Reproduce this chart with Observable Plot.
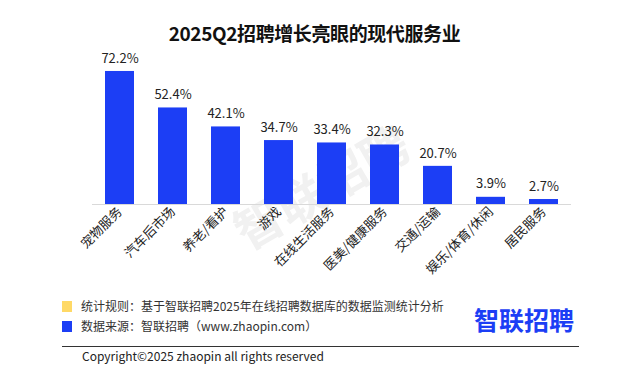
<!DOCTYPE html>
<html><head><meta charset="utf-8">
<script src="https://cdn.jsdelivr.net/npm/d3@7"></script>
<script src="https://cdn.jsdelivr.net/npm/@observablehq/plot@0.6"></script>
<style>
body{margin:0;background:#fff;font-family:"Noto Sans CJK SC","Noto Sans",sans-serif;}
#wrap{position:relative;width:629px;height:376px;overflow:hidden;background:#fff;}
#title{position:absolute;left:0;width:629px;top:19px;text-align:center;font-size:19px;font-weight:bold;color:#111;letter-spacing:-0.4px;}
#chart{position:absolute;left:0;top:0;}
#wm{position:absolute;left:220px;top:160px;width:200px;height:50px;line-height:50px;text-align:center;font-size:48px;font-weight:bold;color:#f1f1f1;transform:rotate(-30deg);transform-origin:center;white-space:nowrap;}
.note{position:absolute;left:81px;font-size:12px;color:#333;}
.sq{position:absolute;left:62px;width:10px;height:11px;}
#logo{position:absolute;left:474px;top:301px;font-size:25px;font-weight:bold;color:#1c3ef5;letter-spacing:0px;}
#line{position:absolute;left:62px;width:517px;top:346px;height:1px;background:#333;}
#copy{position:absolute;left:82px;top:347px;font-size:12px;color:#222;}
</style></head>
<body><div id="wrap">
<div id="wm">智联招聘</div>
<div id="chart"></div>
<div id="title">2025Q2招聘增长亮眼的现代服务业</div>
<div class="sq" style="top:301px;background:#ffd966"></div>
<div class="note" style="top:297px">统计规则：基于智联招聘2025年在线招聘数据库的数据监测统计分析</div>
<div class="sq" style="top:321px;background:#1c3ef5"></div>
<div class="note" style="top:317px">数据来源：智联招聘（www.zhaopin.com）</div>
<div id="logo">智联招聘</div>
<div id="line"></div>
<div id="copy">Copyright©2025 zhaopin all rights reserved</div>
</div>
<script>
const categories = ["宠物服务","汽车后市场","养老/看护","游戏","在线生活服务","医美/健康服务","交通/运输","娱乐/体育/休闲","居民服务"];
const values = [72.2,52.4,42.1,34.7,33.4,32.3,20.7,3.9,2.7];
const labels = ["72.2%","52.4%","42.1%","34.7%","33.4%","32.3%","20.7%","3.9%","2.7%"];
const data = categories.map((c,i)=>({c, v: values[i], l: labels[i]}));
const plot = Plot.plot({
  width: 629, height: 290,
  marginLeft: 92, marginRight: 58, marginTop: 56.6, marginBottom: 86,
  style: {fontFamily: '"Noto Sans CJK SC","Noto Sans",sans-serif', background: "transparent"},
  x: {domain: categories, paddingInner: 0.455, paddingOuter: 0.21, label: null},
  y: {domain: [0, 80], axis: null},
  marks: [
    Plot.barY(data, {x: "c", y: "v", fill: "#1c3ef5"}),
    Plot.ruleY([0], {stroke: "#d9d9d9", strokeWidth: 1.2}),
    Plot.text(data, {x: "c", y: "v", text: "l", dy: -13, fontSize: 13, fill: "#222"}),
    Plot.axisX({tickRotate: -45, tickSize: 0, tickPadding: 5, fontSize: 13, color: "#222", label: null})
  ]
});
document.getElementById("chart").appendChild(plot);
</script>
</body></html>
